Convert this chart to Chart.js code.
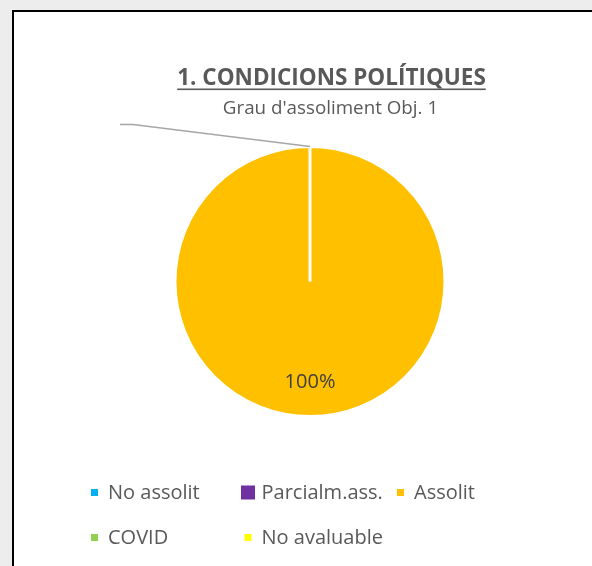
<!DOCTYPE html>
<html>
<head>
<meta charset="utf-8">
<script src="https://cdn.jsdelivr.net/npm/chart.js@4/dist/chart.umd.min.js"></script>
<style>
  html, body { margin: 0; padding: 0; background: #ededed; overflow: hidden; }
  #frame {
    position: absolute; left: 12px; top: 10px; width: 600px; height: 580px;
    background: #fff; border-left: 2px solid #000; border-top: 2px solid #000;
  }
  #wrap { position: absolute; left: 0; top: 0; width: 592px; height: 566px; }
</style>
</head>
<body>
<div id="frame"></div>
<div id="wrap"><canvas id="mainChart" width="592" height="566"></canvas></div>
<script>
'use strict';

const categories = ['No assolit', 'Parcialm.ass.', 'Assolit', 'COVID', 'No avaluable'];
const values     = [0, 0, 1, 0, 0];
const colors     = ['#00B0F0', '#7030A0', '#FFC000', '#92D050', '#FFFF00'];
const titleText  = '1. CONDICIONS POLÍTIQUES';
const subtitle   = "Grau d'assoliment Obj. 1";

const FONT = '"Open Sans", "Noto Sans", sans-serif';
const TEXT = '#595959';

// legend slots: centre of marker, row, marker size
const legendSlots = [
    { x: 94.5,  row: 0, size: 7 },
    { x: 248,   row: 0, size: 14 },
    { x: 400.5, row: 0, size: 7 },
    { x: 94.5,  row: 1, size: 7 },
    { x: 248,   row: 1, size: 7 },
];
const legendRows = [492.5, 537.5];

const decor = {
    id: 'decor',
    afterDraw(chart) {
        const { ctx } = chart;
        const meta = chart.getDatasetMeta(0);
        const total = values.reduce((a, b) => a + b, 0);
        ctx.save();

        // title + underline
        ctx.fillStyle = TEXT;
        ctx.textAlign = 'center';
        ctx.textBaseline = 'alphabetic';
        ctx.font = `bold 22.5px ${FONT}`;
        ctx.fillText(titleText, 331.5, 85);
        const w = ctx.measureText(titleText).width;
        ctx.fillRect(331.5 - w / 2, 88.5, w, 1.6);
        ctx.font = `18.8px ${FONT}`;
        ctx.fillText(subtitle, 330.5, 114);

        // leader line from the top of the pie
        const arc = meta.data[2];
        const sx = arc.x + Math.cos(arc.startAngle) * arc.outerRadius;
        const sy = arc.y + Math.sin(arc.startAngle) * arc.outerRadius;
        ctx.strokeStyle = '#a6a6a6';
        ctx.lineWidth = 1.5;
        ctx.beginPath();
        ctx.moveTo(sx, sy);
        ctx.lineTo(sx - 177, sy - 22);
        ctx.lineTo(sx - 190, sy - 22);
        ctx.stroke();

        // data labels
        ctx.font = `20px ${FONT}`;
        ctx.fillStyle = '#404040';
        ctx.textBaseline = 'middle';
        meta.data.forEach((a, i) => {
            if (!values[i]) return;
            const mid = (a.startAngle + a.endAngle) / 2;
            const r = a.outerRadius * 0.75;
            const pct = Math.round(values[i] / total * 100) + '%';
            ctx.fillText(pct, a.x + Math.cos(mid) * r, a.y + Math.sin(mid) * r);
        });

        // legend
        ctx.font = `20px ${FONT}`;
        ctx.textAlign = 'left';
        categories.forEach((c, i) => {
            const s = legendSlots[i];
            const y = legendRows[s.row];
            ctx.fillStyle = colors[i];
            ctx.fillRect(s.x - s.size / 2, y - s.size / 2, s.size, s.size);
            ctx.fillStyle = TEXT;
            ctx.fillText(c, s.x + 13.5, y + 1);
        });
        ctx.restore();
    },
};

new Chart(document.getElementById('mainChart'), {
    type: 'pie',
    data: {
        labels: categories,
        datasets: [{
            data: values,
            backgroundColor: colors,
            borderColor: '#ffffff',
            borderWidth: 3,
            hoverBorderWidth: 3,
            hoverOffset: 0,
        }],
    },
    options: {
        responsive: false,
        animation: false,
        layout: { padding: { left: 173.5, right: 145.5, top: 145, bottom: 148 } },
        plugins: {
            legend: { display: false },
            tooltip: { enabled: false },
        },
    },
    plugins: [decor],
});
</script>
</body>
</html>
